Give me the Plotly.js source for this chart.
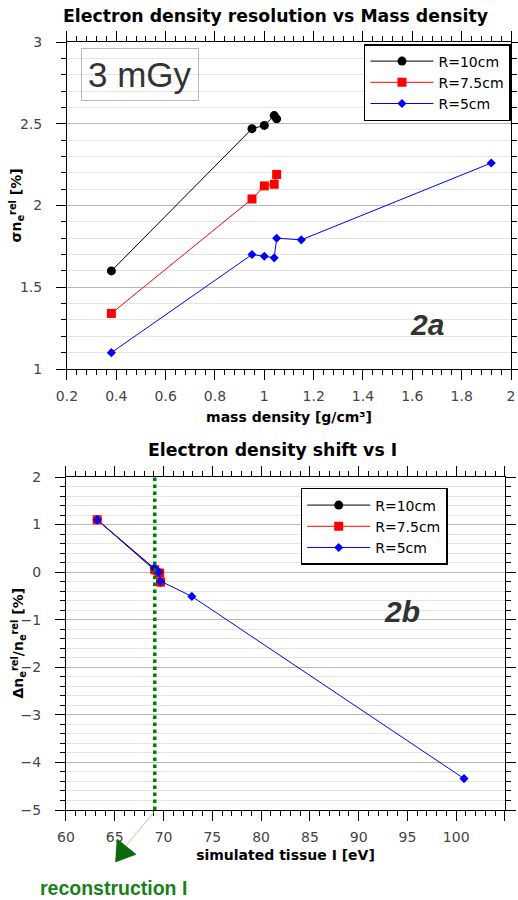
<!DOCTYPE html>
<html><head><meta charset="utf-8">
<script src="https://cdn.plot.ly/plotly-3.0.1.min.js"></script>
<style>html,body{margin:0;padding:0;background:#fff}</style>
</head><body><div id="chart" style="width:518px;height:900px"></div>
<script>
// ---------- DATA ----------
const seriesNames = ['R=10cm', 'R=7.5cm', 'R=5cm'];
// Panel 2a: mass density [g/cm3] vs sigma n_e^rel [%]
const massR10  = [0.38, 0.95, 1.00, 1.04, 1.05];
const sigmaR10 = [1.60, 2.47, 2.49, 2.55, 2.53];
const massR75  = [0.38, 0.95, 1.00, 1.04, 1.05];
const sigmaR75 = [1.34, 2.04, 2.12, 2.13, 2.19];
const massR5   = [0.38, 0.95, 1.00, 1.04, 1.05, 1.15, 1.92];
const sigmaR5  = [1.10, 1.70, 1.69, 1.68, 1.80, 1.79, 2.26];
// Panel 2b: simulated tissue I [eV] vs relative shift [%]
const iR10     = [63.2, 69.1, 69.6, 69.7];
const shiftR10 = [1.10, 0.04, -0.02, -0.21];
const iR75     = [63.2, 69.1, 69.6, 69.7];
const shiftR75 = [1.10, 0.05, -0.02, -0.21];
const iR5      = [63.2, 69.05, 69.5, 69.7, 72.9, 100.8];
const shiftR5  = [1.10, 0.09, 0.00, -0.19, -0.51, -4.34];
const reconstructionI = [69.1];

// ---------- STYLE ----------
const FONT = 'DejaVu Sans, sans-serif';
const SANS = 'Liberation Sans, Arial, sans-serif';
const tickFont = {family: FONT, size: 14, color: '#444'};
const colors = ['black', 'red', 'blue'];
const symbols = ['circle', 'square', 'diamond'];
const sizes = [9, 9, 7];

function mk(x, y, k, xa, ya, leg) {
  return {x: x, y: y, type: 'scatter', mode: 'lines+markers', name: seriesNames[k],
    xaxis: xa, yaxis: ya, legend: leg,
    line: {color: colors[k], width: 1},
    marker: {color: colors[k], symbol: symbols[k], size: sizes[k]}};
}

const data = [
  mk(massR10, sigmaR10, 0, 'x', 'y', 'legend'),
  mk(massR75, sigmaR75, 1, 'x', 'y', 'legend'),
  mk(massR5, sigmaR5, 2, 'x', 'y', 'legend'),
  mk(iR10, shiftR10, 0, 'x2', 'y2', 'legend2'),
  mk(iR75, shiftR75, 1, 'x2', 'y2', 'legend2'),
  mk(iR5, shiftR5, 2, 'x2', 'y2', 'legend2')
];

const baseAxis = {showline: true, linecolor: 'black', linewidth: 1, mirror: 'allticks',
  ticks: 'outside', ticklen: 10, tickwidth: 1, tickcolor: 'black', tickfont: tickFont,
  zeroline: false, ticklabelstandoff: 4};
const titleFont = {family: FONT, size: 14, color: 'black', weight: 'bold'};
const legendStyle = {xanchor: 'left', yanchor: 'top', bgcolor: 'white', itemwidth: 63,
  bordercolor: 'black', borderwidth: 1.5, font: {family: FONT, size: 14, color: 'black'}};

function note(text, x, y, font, extra) {
  return Object.assign({text: text, xref: 'paper', yref: 'paper', x: x, y: y,
    xanchor: 'center', yanchor: 'middle', showarrow: false, font: font}, extra || {});
}

const layout = {
  width: 518, height: 900, margin: {l: 0, r: 0, t: 0, b: 0},
  paper_bgcolor: 'white', plot_bgcolor: 'white', showlegend: true,
  xaxis: Object.assign({}, baseAxis, {domain: [0.1293, 0.9865], anchor: 'y', range: [0.2, 2],
    tick0: 0.2, dtick: 0.2, showgrid: false,
    minor: {dtick: 0.04, tick0: 0.2, ticks: 'outside', ticklen: 5, tickcolor: 'black', showgrid: false},
    title: {text: 'mass density [g/cm³]', font: titleFont, standoff: 9}}),
  yaxis: Object.assign({}, baseAxis, {domain: [0.59, 0.9533], anchor: 'x', range: [1, 3],
    dtick: 0.5, showgrid: true, gridcolor: '#b8b8b8', gridwidth: 1, ticklabelstandoff: 11,
    minor: {dtick: 0.1, ticks: 'outside', ticklen: 5, tickcolor: 'black', showgrid: true, gridcolor: '#e4e4e4'}}),
  xaxis2: Object.assign({}, baseAxis, {domain: [0.1274, 0.9749], anchor: 'y2', range: [60, 105],
    dtick: 5, showgrid: false,
    minor: {dtick: 1, ticks: 'outside', ticklen: 5, tickcolor: 'black', showgrid: false},
    title: {text: 'simulated tissue I [eV]', font: titleFont, standoff: 6}}),
  yaxis2: Object.assign({}, baseAxis, {domain: [0.1, 0.47], anchor: 'x2', range: [-5, 2],
    dtick: 1, showgrid: true, gridcolor: '#b8b8b8', gridwidth: 1, ticklabelstandoff: 11,
    minor: {dtick: 0.2, ticks: 'outside', ticklen: 5, tickcolor: 'black', showgrid: true, gridcolor: '#e4e4e4'}}),
  legend: Object.assign({x: 0.7027, y: 0.9511}, legendStyle),
  legend2: Object.assign({x: 0.5805, y: 0.4578}, legendStyle),
  shapes: [
    {type: 'line', xref: 'x2', yref: 'y2', x0: reconstructionI[0], x1: reconstructionI[0], y0: -5, y1: 2,
      line: {color: '#008000', width: 3.5, dash: 'dot'}},
    {type: 'line', xref: 'paper', yref: 'paper', x0: 0.2979, y0: 0.0981, x1: 0.2446, y1: 0.0611,
      line: {color: '#8fcf8f', width: 0.8}},
    {type: 'path', xref: 'paper', yref: 'paper',
      path: 'M 0.2234 0.04256 L 0.2264 0.06744 L 0.2620 0.05078 Z',
      fillcolor: '#0b6b0b', line: {color: '#0b6b0b', width: 1}}
  ],
  annotations: [
    note('Electron density resolution vs Mass density', 0.531, 0.9822,
      {family: FONT, size: 17.3, color: 'black', weight: 'bold'}),
    note('Electron density shift vs I', 0.526, 0.4998,
      {family: FONT, size: 17.3, color: 'black', weight: 'bold'}),
    note('σn<sub>e</sub><sup>rel</sup> [%]', 0.0328, 0.7717, titleFont, {textangle: -90}),
    note('Δn<sub>e</sub><sup>rel</sup>/n<sub>e</sub><sup>rel</sup> [%]', 0.0348, 0.285, titleFont, {textangle: -90}),
    note('3 mGy', 0.2712, 0.9167, {family: SANS, size: 35, color: '#333'},
      {bordercolor: '#bbbbbb', borderwidth: 1, borderpad: 6}),
    note('<b><i>2a</i></b>', 0.8234, 0.6389, {family: SANS, size: 30, color: '#333'}),
    note('<b><i>2b</i></b>', 0.7754, 0.3211, {family: SANS, size: 30, color: '#333'}),
    note('<b>reconstruction I</b>', 0.2191, 0.0133, {family: SANS, size: 19.5, color: '#1a801a'})
  ]
};

Plotly.newPlot('chart', data, layout, {displayModeBar: false, staticPlot: true});
</script>
</body></html>
